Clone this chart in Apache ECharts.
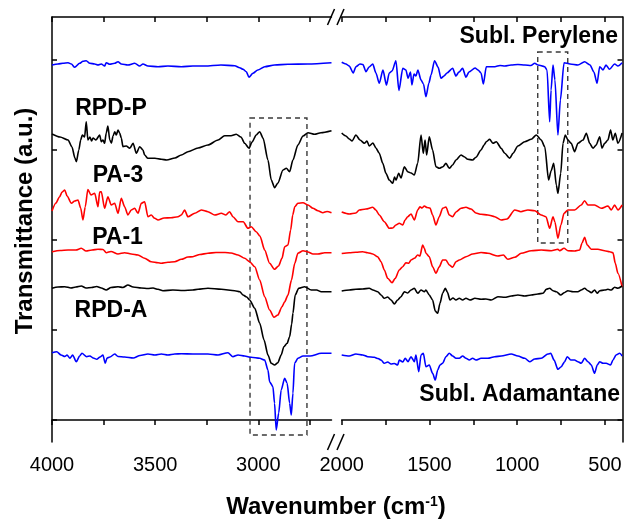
<!DOCTYPE html>
<html>
<head>
<meta charset="utf-8">
<script src="https://cdn.jsdelivr.net/npm/echarts@6/dist/echarts.min.js"></script>
<style>html,body{margin:0;padding:0;background:#fff}#c{width:627px;height:525px}</style>
</head>
<body>
<div id="c"></div>
<script>
// ---- tick labels / ticks ----
const leftTicks = [4000, 3750, 3500, 3250, 3000, 2750];
const leftLabels = [4000, 3500, 3000];
const rightTicks = [2000, 1750, 1500, 1250, 1000, 750, 500];
const rightLabels = [2000, 1500, 1000, 500];
const yTicks = [0, 90, 180, 270, 360];

// ---- Subl. Perylene (blue, top) ----
const perWnL = [4000,3971,3947,3922,3906,3890,3866,3850,3834,3817,3793,3777,3761,3745,3737,3720,3696,3680,3664,3632,3599,3575,3559,3535,3486,3438,3373,3317,3258,3181,3114,3090,3074,3058,3045,3026,3002,2969,2921,2856,2759,2645];
const perTL = [355,356,356.7,357.3,356,352.7,356.7,358.7,359.3,356.7,356,355,356,354,357.3,355.7,356.7,358.3,356,355,356.7,354,356,354,353.3,354,353.3,354,354,355,354.3,352.3,350.7,348.3,342.7,346.7,350,353.3,355,355.7,356,357.3];
const perWnR = [2000,1976,1957,1934,1919,1896,1879,1862,1844,1823,1805,1786,1765,1745,1729,1713,1691,1674,1652,1634,1622,1608,1600,1588,1577,1566,1548,1534,1520,1503,1491,1471,1451,1434,1417,1400,1368,1349,1332,1311,1292,1275,1240,1223,1206,1193,1176,1127,1098,1070,1035,996,956,922,900,882,843,830,815,807,796,785,768,754,733,699,654,616,585,563,545,530,511,494,474,445,426,402];
const perTR = [357.7,356,354,347,353.3,356,355.5,348.3,353,356,347,336.7,350,335,347,349,359.3,329.5,351.7,350,341.7,348,335,346,344,350,340,336,323.3,337,345,359.3,353,341.7,344,347,351.7,344,348,351.7,342.7,348,352,350,347,336,353.3,353.3,354.5,354,355,355.5,355,354.5,356.7,355,353.3,350,298.3,330,355,340,285,320,357.3,356,355,358.3,355,348,336.7,353.3,350,355,350.7,356,354,357.3];

// ---- RPD-P (black) ----
const rpdpWnL = [4000,3961,3922,3903,3889,3882,3870,3861,3853,3842,3834,3826,3816,3808,3801,3787,3769,3761,3753,3745,3737,3729,3720,3712,3704,3696,3688,3680,3672,3664,3656,3640,3623,3607,3591,3575,3559,3551,3535,3501,3470,3444,3404,3373,3341,3292,3244,3195,3163,3132,3107,3084,3066,3045,3030,3010,2993,2977,2953,2937,2921,2905,2880,2864,2848,2832,2808,2783,2759,2727,2696,2645];
const rpdpTL = [286,283,280,273,262,258.3,270,280,285,283,298.3,280,283,279,282,280,285,278.3,280,276.7,287,294,280,277,284,288.3,285,290,287,282,273.3,274,271.7,276.7,266.7,273.3,270,265,261.7,261.7,260.7,260,262,265,268.3,272,275,280,284.3,284.3,285.7,283,276.7,271.7,278,285,288.3,282,260,240,232.3,237,250,251.7,248.3,260,275,284,287.3,285.7,287.3,289.3];
const rpdpWnR = [2000,1976,1957,1941,1919,1896,1871,1856,1843,1822,1805,1786,1766,1748,1729,1709,1699,1691,1675,1662,1643,1624,1605,1586,1567,1548,1535,1525,1516,1501,1482,1463,1444,1423,1406,1387,1368,1349,1320,1302,1282,1254,1235,1206,1189,1176,1157,1138,1119,1091,1071,1043,1024,996,957,920,891,863,843,821,807,792,777,768,752,739,726,711,692,673,654,625,606,587,568,550,530,517,502,483,468,455,441,426,402];
const rpdpTR = [287,284,281,279,285,280,276.7,279,274,277,272,266.7,256.7,246.7,240,236.7,243,240,246.7,242,253.3,248.3,247,245,256.7,285,266.7,280,265,283.3,270,253.3,251.7,253.3,256.7,251.7,255,260,265,263.3,260.7,260,262.7,270,275,278.3,280.7,276.7,278.3,271.7,266.7,261.7,266.7,274,278.3,280.7,285,280,273.3,240,249,256.7,235,226.7,246.7,276.7,285,280,276.7,268.3,276.7,280,286.7,276.7,271.7,275,283.3,271.7,276.7,280,290,280,286.7,276.7,287];

// ---- PA-3 (red, upper) ----
const pa3WnL = [4000,3981,3963,3951,3938,3927,3906,3890,3874,3861,3850,3839,3826,3811,3793,3777,3769,3761,3745,3729,3713,3696,3680,3664,3648,3632,3616,3599,3583,3567,3551,3535,3519,3502,3486,3457,3423,3389,3373,3357,3341,3308,3276,3244,3211,3179,3157,3139,3123,3098,3073,3050,3034,3010,2992,2969,2945,2921,2902,2885,2872,2856,2843,2833,2823,2808,2783,2759,2735,2711,2687,2667,2645];
const pa3TL = [209,217,223.3,228,230,224,216.7,219,220,212,200,213,230.5,225,226.7,213.3,228,228.3,211.7,223.3,215,216.7,206.7,221.7,213.3,205,210,211.7,206.7,216.7,218.3,203.3,205,201.7,200,202,202.3,203.3,205,210,203.3,206.7,210,208.3,205,206.7,205,208.3,203.3,198.3,198.3,191.7,193.3,188.3,184,170,156.7,150.7,154,161.7,173.3,175,190,205,213.3,216.7,217.3,215,211.7,209.3,207.3,208.5,207.3];
const pa3WnR = [2000,1957,1919,1900,1862,1823,1805,1786,1757,1729,1709,1691,1672,1652,1639,1624,1605,1586,1567,1554,1543,1529,1514,1497,1482,1463,1444,1425,1406,1387,1368,1349,1320,1292,1263,1235,1206,1167,1128,1091,1058,1014,979,939,900,863,836,815,796,785,768,751,733,711,673,635,616,597,559,521,483,464,445,426,402];
const pa3TR = [208,206,207,210,211,212.7,210,205,198.3,191.7,192,195,196.7,195,200,203.3,206,200,210,213.3,212,214,212.5,212,205,195,203.3,211.7,213,205,203.3,208,211.7,212.7,211,207,205.7,205,203.3,200,201,210,208.3,210,209.3,205,203.3,191.7,203.3,198,181.7,195,206.7,210,210,215,219.3,215,215,211.7,214,210,215,210,215];

// ---- PA-1 (red, lower) ----
const pa1WnL = [4000,3961,3922,3884,3858,3835,3806,3777,3753,3737,3714,3680,3648,3616,3583,3551,3519,3486,3470,3438,3405,3373,3341,3317,3283,3244,3205,3161,3132,3098,3066,3042,3017,2993,2969,2945,2924,2905,2885,2872,2856,2839,2823,2808,2783,2759,2735,2711,2678,2645];
const pa1TL = [168.3,169.5,170,170,171.7,169,170,170.7,170.5,167.3,168.5,166,167.3,166,165,161.7,158.3,157.3,156.7,157.7,158.3,160.7,163,163.3,165.5,166.7,167.5,167.5,167,165,161.7,158.3,153.3,140,123.3,110,102.7,105,113.3,118.3,125,140,156.7,166.7,169.3,168,166,166,167.3,167.3];
const pa1WnR = [2000,1957,1919,1880,1852,1823,1795,1776,1757,1738,1713,1695,1672,1652,1634,1618,1605,1586,1567,1554,1539,1529,1520,1501,1482,1463,1444,1425,1406,1387,1368,1349,1330,1292,1254,1206,1167,1110,1079,1053,1014,977,920,863,806,768,758,733,711,673,644,631,616,601,578,540,502,473,454,441,426,402];
const pa1TR = [166.5,167.3,167.7,168.3,167.3,166,163.3,158.3,150,141.7,137.3,141.7,150,153.3,157.3,156.7,160,161.7,165,164,175,171.7,166.7,163.3,153.3,146.7,153.3,160,160,155,152.7,158.3,160,163.3,166,167.5,166.7,164,165,160.7,162.7,166.7,169.3,170,169.3,170.7,169.3,171.7,169.3,169,170,176.7,182.7,175,170.7,170.7,169.3,168.3,167.3,156.7,146.7,133];

// ---- RPD-A (black, lower) ----
const rpdaWnL = [4000,3971,3938,3908,3884,3858,3835,3808,3783,3761,3737,3714,3680,3656,3632,3607,3567,3535,3510,3486,3462,3414,3365,3317,3292,3244,3179,3114,3089,3074,3056,3042,3017,2993,2972,2953,2937,2921,2905,2889,2876,2860,2848,2838,2832,2821,2804,2775,2743,2717,2695,2645];
const rpdaTL = [131.7,133,133.3,132,133,134,132,132.5,133.5,132,130,132.5,133.3,132.5,135,133,132,131.5,132,130.7,129.3,130,129.5,130,130.7,131.7,130.7,129.3,128.3,125,123,120,111.7,96.7,80,65,56.7,55,57.3,65,73.3,76.7,83.3,96,106.7,125,131.7,133.3,130,130,128.3,128.3];
const rpdaWnR = [2000,1957,1919,1880,1843,1822,1795,1776,1757,1738,1719,1700,1681,1662,1643,1624,1605,1586,1567,1548,1529,1520,1501,1482,1467,1453,1440,1425,1410,1398,1383,1366,1349,1330,1311,1292,1269,1241,1206,1178,1148,1110,1071,1034,996,957,920,882,853,834,815,796,777,752,732,711,682,654,635,616,597,578,559,544,530,502,483,464,445,426,402];
const rpdaTR = [129,130,130.7,131,131.7,130,128.3,125,121.7,123,120,116,120,123.3,128.3,127,130,131.7,126.7,130,128.3,130,125,120,109,106.7,116.7,126.7,131.7,128,120,122,120,121.7,120,121.7,120,121.7,120.7,121,120,123.3,122.7,124,125,124,125,126,126.7,130.7,131.7,129.3,128.3,125,127.3,129.3,128.3,128.3,130,131.7,129.3,127.3,130,126.7,129.3,130,130.7,130,132.7,131.7,134];

// ---- Subl. Adamantane (blue, bottom) ----
const adaWnL = [4000,3977,3956,3938,3927,3913,3900,3882,3866,3855,3832,3816,3800,3783,3767,3753,3742,3733,3719,3696,3680,3648,3606,3573,3535,3501,3470,3438,3405,3373,3317,3244,3195,3147,3123,3098,3066,3034,2993,2969,2953,2945,2929,2921,2913,2901,2889,2872,2860,2848,2840,2832,2824,2808,2783,2749,2695,2645];
const adaTL = [67.3,68.3,65,63.5,65,61.7,65,58.3,64,66.7,63.3,64,62,60.7,63,65,56.7,62,63,66,63.5,63,62,64.5,66,65,66,65,66,66.3,66,66,65,67.3,63.3,65,64,62.7,61.7,60,50,38.3,33.3,16.7,-10,7,30,41.7,36.7,16.7,5,26.7,56.7,61.7,64,64,66.7,66.7];
const adaWnR = [2000,1957,1919,1880,1852,1814,1793,1776,1757,1738,1719,1700,1681,1672,1652,1638,1622,1605,1586,1577,1561,1548,1535,1520,1501,1482,1467,1453,1440,1425,1406,1387,1368,1349,1330,1311,1292,1273,1254,1235,1206,1167,1128,1091,1034,996,957,929,900,863,825,809,790,768,749,730,715,695,673,654,635,616,597,578,559,544,530,511,493,468,454,437,416,402];
const adaTR = [65,64,66,65,63.3,62.7,61.5,60,56.7,58,56,56.5,55,60,58,61.7,58.3,63.3,58.3,65,48.3,65,66.7,53.3,55,46.7,40,50,55,56.7,63.3,66.7,64,61.7,61.7,64,61.7,60,61.7,60,61.7,61.7,63.3,64,66,64,61.7,58.3,61,61.7,66,66.7,60,50.7,53.3,58.3,63.3,60,60,58.3,56.7,61.7,58.3,55,46.7,55,58.3,56.7,56.7,55,60,65,66.7,64];

// ---- dashed boxes (wavenumber, a.u.) ----
const boxLeft = [[3040, 302], [2764, -15]];
const boxRight = [[883, 368], [712, 177]];

const FONT = '"Liberation Sans", Arial, sans-serif';
const pairs = (xs, ys) => xs.map((x, i) => [x, ys[i]]);

const chart = echarts.init(document.getElementById('c'), null, {renderer: 'canvas'});

const axLine = {show: true, lineStyle: {color: '#000', width: 1.5}};
function xAx(grid, pos, min, max, ticks, labels) {
  return {
    type: 'value', gridIndex: grid, position: pos, inverse: true, min: min, max: max,
    axisLine: axLine,
    axisTick: {show: true, inside: pos === 'top', length: 5, lineStyle: {color: '#000', width: 1.5}, customValues: ticks},
    axisLabel: pos === 'top' ? {show: false} : {show: true, customValues: labels, formatter: v => String(v),
      fontSize: 20, fontFamily: FONT, color: '#000', margin: 13, showMinLabel: true, showMaxLabel: true},
    splitLine: {show: false}
  };
}
function yAx(grid, pos) {
  return {
    type: 'value', gridIndex: grid, position: pos, min: -22, max: 403,
    axisLine: axLine,
    axisTick: {show: true, inside: true, length: 5, lineStyle: {color: '#000', width: 1.5}, customValues: yTicks},
    axisLabel: {show: false}, splitLine: {show: false}
  };
}
const boxStyle = {color: 'rgba(0,0,0,0)', borderColor: '#3a3a3a', borderWidth: 1.4, borderType: [5, 4]};
function ser(name, color, xi, yi, data, box) {
  const s = {name: name, type: 'line', xAxisIndex: xi, yAxisIndex: yi, data: data, showSymbol: false, symbol: 'none',
    smooth: 0.25, smoothMonotone: 'x',
    lineStyle: {color: color, width: 1.6}, itemStyle: {color: color}, animation: false, z: 3};
  if (box) s.markArea = {silent: true, itemStyle: boxStyle, data: [[{coord: box[0]}, {coord: box[1]}]]};
  return s;
}

const labelStyle = (t, x, y, align) => ({type: 'text', x: x, y: y, z: 10,
  style: {text: t, fontSize: 23, fontWeight: 'bold', fontFamily: FONT, fill: '#000', align: align || 'center', verticalAlign: 'middle'}});
const brk = (cx, cy) => ({type: 'line', z: 10, shape: {x1: cx - 3.5, y1: cy + 8, x2: cx + 3.5, y2: cy - 8}, style: {stroke: '#000', lineWidth: 1.5}});

chart.setOption({
  animation: false,
  backgroundColor: '#fff',
  grid: [
    {left: 52, top: 17, width: 279.5, height: 425},
    {left: 341.7, top: 17, width: 280.8, height: 425}
  ],
  xAxis: [
    xAx(0, 'bottom', 2645, 4000, leftTicks, leftLabels),
    xAx(0, 'top', 2645, 4000, leftTicks, leftLabels),
    xAx(1, 'bottom', 400, 2000, rightTicks, rightLabels),
    xAx(1, 'top', 400, 2000, rightTicks, rightLabels)
  ],
  yAxis: [yAx(0, 'left'), yAx(1, 'right')],
  series: [
    ser('Subl. Perylene', '#0000ff', 0, 0, pairs(perWnL, perTL)),
    ser('Subl. Perylene', '#0000ff', 2, 1, pairs(perWnR, perTR)),
    ser('RPD-P', '#000000', 0, 0, pairs(rpdpWnL, rpdpTL), boxLeft),
    ser('RPD-P', '#000000', 2, 1, pairs(rpdpWnR, rpdpTR), boxRight),
    ser('PA-3', '#ff0000', 0, 0, pairs(pa3WnL, pa3TL)),
    ser('PA-3', '#ff0000', 2, 1, pairs(pa3WnR, pa3TR)),
    ser('PA-1', '#ff0000', 0, 0, pairs(pa1WnL, pa1TL)),
    ser('PA-1', '#ff0000', 2, 1, pairs(pa1WnR, pa1TR)),
    ser('RPD-A', '#000000', 0, 0, pairs(rpdaWnL, rpdaTL)),
    ser('RPD-A', '#000000', 2, 1, pairs(rpdaWnR, rpdaTR)),
    ser('Subl. Adamantane', '#0000ff', 0, 0, pairs(adaWnL, adaTL)),
    ser('Subl. Adamantane', '#0000ff', 2, 1, pairs(adaWnR, adaTR))
  ],
  graphic: [
    labelStyle('Subl. Perylene', 618, 37, 'right'),
    labelStyle('RPD-P', 111, 108.5),
    labelStyle('PA-3', 118, 176),
    labelStyle('PA-1', 117.5, 237.5),
    labelStyle('RPD-A', 111, 310.5),
    labelStyle('Subl. Adamantane', 620, 395, 'right'),
    {type: 'text', x: 25, y: 221, rotation: Math.PI / 2, z: 10,
      style: {text: 'Transmittance (a.u.)', fontSize: 24, fontWeight: 'bold', fontFamily: FONT, fill: '#000', align: 'center', verticalAlign: 'middle'}},
    {type: 'text', x: 336, y: 507, z: 10,
      style: {text: '{a|Wavenumber (cm}{b|-1}{a|)}', align: 'center', verticalAlign: 'middle', fill: '#000',
        rich: {a: {fontSize: 24, fontWeight: 'bold', fontFamily: FONT, fill: '#000'},
               b: {fontSize: 14, fontWeight: 'bold', fontFamily: FONT, fill: '#000', verticalAlign: 'top'}}}},
    {type: 'rect', z: 9, shape: {x: 332.5, y: 8, width: 8.5, height: 18}, style: {fill: '#fff'}},
    {type: 'rect', z: 9, shape: {x: 332.5, y: 433, width: 8.5, height: 18}, style: {fill: '#fff'}},
    brk(331, 17), brk(340.5, 17), brk(331, 442), brk(340.5, 442)
  ]
});
</script>
</body>
</html>
